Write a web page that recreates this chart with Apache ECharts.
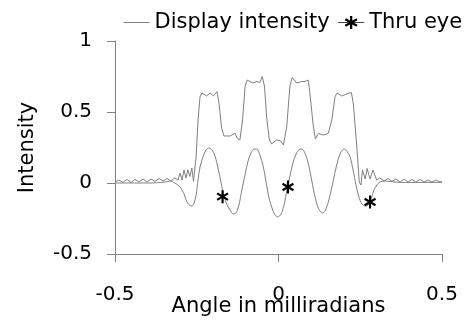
<!DOCTYPE html>
<html><head><meta charset="utf-8">
<script src="https://cdn.jsdelivr.net/npm/echarts@6/dist/echarts.min.js"></script>
<style>html,body{margin:0;padding:0;background:#fff}#c{width:470px;height:322px}</style>
</head><body><div id="c"></div>
<script>
// Display intensity (upper trace)
const displayX = [-0.500,-0.488,-0.476,-0.463,-0.451,-0.439,-0.427,-0.414,-0.402,-0.390,-0.378,-0.365,-0.353,-0.341,-0.329,-0.317,-0.307,-0.301,-0.295,-0.289,-0.283,-0.277,-0.271,-0.265,-0.260,-0.252,-0.246,-0.240,-0.234,-0.228,-0.220,-0.209,-0.199,-0.188,-0.182,-0.174,-0.167,-0.148,-0.133,-0.126,-0.118,-0.110,-0.102,-0.096,-0.087,-0.078,-0.066,-0.057,-0.050,-0.043,-0.036,-0.028,-0.021,-0.006,0.005,0.015,0.025,0.035,0.042,0.056,0.071,0.081,0.091,0.096,0.106,0.113,0.122,0.137,0.152,0.163,0.173,0.179,0.193,0.209,0.223,0.229,0.239,0.247,0.252,0.257,0.265,0.271,0.280,0.289,0.300,0.310,0.323,0.335,0.347,0.359,0.372,0.384,0.396,0.408,0.420,0.433,0.445,0.457,0.469,0.482,0.494,0.500];
const displayY = [0.007,0.021,0.004,0.025,0.004,0.025,0.007,0.028,0.007,0.028,0.011,0.032,0.014,0.032,0.014,0.035,0.021,0.070,0.021,0.092,0.035,0.092,0.046,0.106,0.011,0.183,0.444,0.606,0.634,0.634,0.613,0.634,0.613,0.644,0.563,0.387,0.331,0.331,0.350,0.315,0.303,0.444,0.683,0.725,0.715,0.704,0.715,0.708,0.750,0.683,0.458,0.303,0.275,0.303,0.299,0.268,0.394,0.683,0.743,0.704,0.715,0.715,0.725,0.634,0.408,0.310,0.349,0.338,0.349,0.444,0.609,0.634,0.613,0.627,0.637,0.556,0.268,0.007,-0.014,0.092,0.028,0.102,0.028,0.092,0.021,0.035,0.014,0.032,0.011,0.028,0.007,0.028,0.007,0.025,0.007,0.025,0.007,0.021,0.007,0.021,0.007,0.011];
// Lower oscillating trace
const lowerX = [-0.500,-0.393,-0.347,-0.332,-0.317,-0.301,-0.289,-0.280,-0.271,-0.265,-0.258,-0.252,-0.246,-0.240,-0.231,-0.222,-0.213,-0.203,-0.194,-0.185,-0.176,-0.167,-0.157,-0.148,-0.139,-0.130,-0.121,-0.112,-0.102,-0.093,-0.084,-0.075,-0.066,-0.057,-0.047,-0.038,-0.029,-0.020,-0.011,-0.002,0.008,0.017,0.026,0.035,0.044,0.054,0.063,0.072,0.081,0.090,0.099,0.109,0.118,0.127,0.136,0.145,0.154,0.164,0.173,0.182,0.191,0.200,0.209,0.219,0.228,0.237,0.246,0.255,0.265,0.274,0.283,0.292,0.301,0.310,0.326,0.341,0.372,0.500];
const lowerY = [0,0,0.007,0.014,0,-0.028,-0.077,-0.134,-0.158,-0.162,-0.141,-0.085,0.021,0.113,0.183,0.232,0.246,0.232,0.190,0.106,0.007,-0.092,-0.155,-0.190,-0.218,-0.211,-0.155,-0.049,0.063,0.155,0.211,0.239,0.239,0.197,0.120,0.007,-0.106,-0.176,-0.225,-0.239,-0.218,-0.155,-0.049,0.049,0.141,0.204,0.236,0.239,0.211,0.148,0.049,-0.070,-0.155,-0.197,-0.211,-0.183,-0.120,-0.021,0.077,0.162,0.218,0.239,0.225,0.183,0.092,-0.014,-0.099,-0.148,-0.162,-0.155,-0.113,-0.049,-0.014,0.007,0.014,0.011,0.004,0.004];
// Thru eye points
const eyeX = [-0.171, 0.029, 0.280];
const eyeY = [-0.096, -0.028, -0.134];

const zip = (xs, ys) => xs.map((x, i) => [x, ys[i]]);
const FONT = 'DejaVu Sans';
const GRAY = '#808080';
const STAR = 'path://M-17,-100L17,-100L17,100L-17,100Z M-95,-35L-78,-65L95,35L78,65Z M78,-65L95,-35L-78,65L-95,35Z';

const chart = echarts.init(document.getElementById('c'), null, {renderer: 'canvas'});
chart.setOption({
  animation: false,
  backgroundColor: '#fff',
  grid: {left: 115, right: 28, top: 41, bottom: 68, outerBoundsMode: 'none', containLabel: false},
  legend: {
    left: 123, top: 12, padding: 0, width: 347, itemWidth: 26, itemHeight: 16, itemGap: 8,
    textStyle: {fontSize: 21, fontFamily: FONT, color: '#000'},
    lineStyle: {width: 1},
    data: [
      {name: 'Display intensity', itemStyle: {opacity: 0}},
      {name: 'Thru eye', lineStyle: {opacity: 1, color: '#444', width: 1}}
    ]
  },
  xAxis: {
    type: 'value', min: -0.5, max: 0.5, interval: 0.5,
    name: 'Angle in milliradians', nameLocation: 'middle', nameGap: 42, nameMoveOverlap: false,
    nameTextStyle: {fontSize: 21, fontFamily: FONT, color: '#000'},
    axisLine: {show: true, onZero: false, lineStyle: {color: GRAY, width: 1}},
    axisTick: {show: true, length: 8, lineStyle: {color: GRAY}},
    axisLabel: {margin: 31, fontSize: 20, fontFamily: FONT, color: '#000'},
    splitLine: {show: false}
  },
  yAxis: {
    type: 'value', min: -0.5, max: 1, interval: 0.5,
    name: 'Intensity', nameLocation: 'middle', nameGap: 77, nameRotate: 90, nameMoveOverlap: false,
    nameTextStyle: {fontSize: 21, fontFamily: FONT, color: '#000'},
    axisLine: {show: true, onZero: false, lineStyle: {color: GRAY, width: 1}},
    axisTick: {show: true, length: 8, lineStyle: {color: GRAY}},
    axisLabel: {margin: 23, fontSize: 20, fontFamily: FONT, color: '#000'},
    splitLine: {show: false}
  },
  series: [
    {type: 'line', name: 'Display intensity', data: zip(displayX, displayY), symbol: 'none',
     lineStyle: {color: GRAY, width: 1}, itemStyle: {color: GRAY}},
    {type: 'line', name: 'lower', data: zip(lowerX, lowerY), symbol: 'none', smooth: 0.3,
     lineStyle: {color: GRAY, width: 1}, itemStyle: {color: GRAY}},
    {type: 'line', name: 'Thru eye', data: zip(eyeX, eyeY), symbol: STAR, symbolSize: [12, 13],
     showSymbol: true, lineStyle: {opacity: 0}, itemStyle: {color: '#000'}, z: 5}
  ]
});
</script></body></html>
